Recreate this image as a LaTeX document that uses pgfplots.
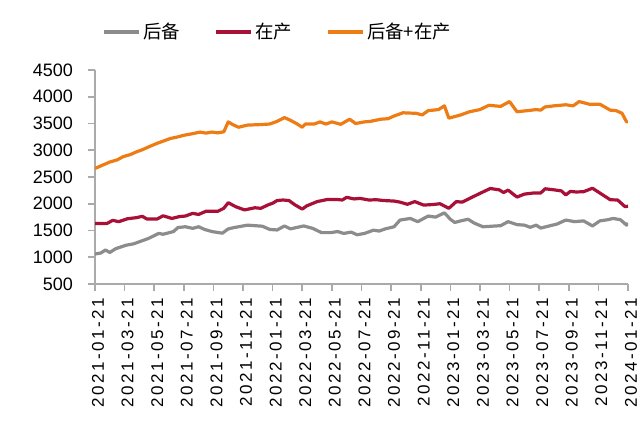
\documentclass[border=0pt]{standalone}
\usepackage{fontspec}
\setmainfont{Liberation Sans}
\newfontfamily\cjk{Noto Sans CJK SC}
\newfontfamily\datefont[LetterSpace=15]{Liberation Sans}
\usepackage{pgfplots}
\pgfplotsset{compat=1.18}

\definecolor{cGray}{RGB}{140,140,140}
\definecolor{cRed}{RGB}{168,16,56}
\definecolor{cOrange}{RGB}{238,124,20}
\definecolor{cAxis}{RGB}{170,170,170}

\begin{document}
\begin{tikzpicture}
\path[use as bounding box] (0,0) rectangle (320pt,210.5pt);
\begin{axis}[
    at={(47.5pt,68.5pt)}, anchor=south west,
    scale only axis, width=266.5pt, height=107pt,
    xmin=0, xmax=36, ymin=500, ymax=4500,
    axis lines*=left,
    axis line style={cAxis, line width=0.8pt},
    tick align=outside,
    major tick length=3.5pt,
    tick style={cAxis, line width=0.8pt},
    xtick={0,2,...,36},
    xticklabels={2021-01-21,2021-03-21,2021-05-21,2021-07-21,2021-09-21,2021-11-21,
      2022-01-21,2022-03-21,2022-05-21,2022-07-21,2022-09-21,2022-11-21,
      2023-01-21,2023-03-21,2023-05-21,2023-07-21,2023-09-21,2023-11-21,2024-01-21},
    xticklabel style={rotate=90, anchor=east, font=\datefont\fontsize{8.5}{10}\selectfont, yshift=-1.5pt},
    ytick={500,1000,...,4500},
    yticklabel style={font=\fontsize{9}{10}\selectfont, xshift=-4pt},
    /pgf/number format/assume math mode=true,
    /pgf/number format/set thousands separator={},
    legend columns=3,
    legend style={at={(0.0,1)}, anchor=west, xshift=0.5pt, yshift=19pt, draw=none, fill=none,
      font=\cjk\fontsize{9.2}{10}\selectfont,
      nodes={inner sep=1pt},
      /tikz/every even column/.append style={column sep=16pt}},
    legend image code/.code={\draw[#1, line width=2pt] (0pt,0pt) -- (17.5pt,0pt);},
    every axis plot/.append style={line width=1.6pt, line join=round, mark=none},
]
\addplot[cGray] coordinates {
(0.0,1060) (0.4,1080) (0.7,1135) (1.0,1090) (1.4,1160) (2.1,1225) (2.6,1250)
(3.0,1290) (3.6,1350) (4.3,1445) (4.6,1430) (5.3,1480) (5.6,1555) (6.1,1570)
(6.6,1540) (7.0,1570) (7.4,1520) (7.9,1480) (8.6,1450) (9.0,1530) (9.4,1555)
(9.8,1575) (10.3,1600) (10.8,1590) (11.3,1580) (11.8,1520) (12.3,1510) (12.8,1585)
(13.2,1530) (13.6,1555) (14.1,1585) (14.7,1540) (15.3,1460) (15.9,1460) (16.4,1480)
(16.8,1445) (17.3,1470) (17.7,1420) (18.2,1445) (18.8,1505) (19.2,1490) (19.6,1530)
(20.2,1570) (20.6,1695) (21.3,1725) (21.8,1665) (22.5,1770) (23.0,1750) (23.6,1830)
(24.0,1710) (24.3,1650) (24.7,1680) (25.2,1710) (25.6,1640) (26.2,1570) (26.8,1580)
(27.4,1590) (27.9,1665) (28.5,1610) (29.0,1600) (29.4,1560) (29.8,1600) (30.1,1545)
(30.6,1580) (31.2,1620) (31.8,1695) (32.4,1665) (33.0,1680) (33.6,1585) (34.1,1680)
(34.6,1700) (35.0,1725) (35.5,1700) (35.9,1600) (36.0,1640)
};
\addlegendentry{后备}
\addplot[cRed] coordinates {
(0.0,1630) (0.8,1630) (1.2,1690) (1.6,1665) (2.2,1720) (2.8,1740) (3.2,1765)
(3.5,1715) (4.2,1715) (4.6,1775) (5.2,1725) (5.7,1760) (6.1,1770) (6.6,1820)
(7.0,1800) (7.5,1860) (8.3,1860) (8.7,1915) (9.0,2020) (9.5,1945) (10.1,1885)
(10.8,1925) (11.2,1915) (11.7,1980) (12.0,2010) (12.3,2060) (12.7,2070) (13.1,2060)
(13.5,1980) (14.0,1900) (14.3,1960) (15.0,2040) (15.7,2080) (16.3,2080) (16.7,2070)
(17.0,2120) (17.5,2090) (17.9,2100) (18.5,2070) (19.0,2075) (19.5,2060) (20.2,2050)
(20.6,2030) (21.1,1990) (21.6,2040) (22.2,1975) (22.8,1985) (23.3,2000) (23.9,1915)
(24.4,2040) (24.8,2030) (25.6,2140) (26.2,2220) (26.7,2285) (27.3,2260) (27.6,2210)
(27.9,2255) (28.5,2125) (29.0,2180) (29.6,2200) (30.1,2200) (30.4,2280) (31.0,2260)
(31.5,2240) (31.8,2165) (32.1,2230) (32.5,2220) (33.0,2225) (33.6,2290) (34.1,2200)
(34.8,2075) (35.3,2070) (35.8,1945) (36.0,1955)
};
\addlegendentry{在产}
\addplot[cOrange] coordinates {
(0.0,2660) (0.5,2720) (1.0,2780) (1.5,2820) (1.9,2880) (2.4,2920) (2.8,2970)
(3.2,3010) (3.6,3060) (4.2,3130) (4.6,3170) (5.1,3220) (5.6,3250) (6.0,3280)
(6.6,3310) (7.1,3340) (7.5,3320) (7.9,3340) (8.3,3325) (8.7,3345) (9.0,3530)
(9.3,3480) (9.7,3430) (10.3,3470) (11.2,3480) (11.8,3490) (12.3,3540) (12.8,3610)
(13.2,3560) (13.6,3500) (14.0,3430) (14.2,3490) (14.8,3490) (15.2,3530) (15.6,3490)
(16.0,3530) (16.6,3485) (17.2,3580) (17.6,3500) (18.2,3530) (18.6,3540) (19.3,3580)
(19.8,3590) (20.2,3640) (20.8,3700) (21.7,3690) (22.1,3660) (22.5,3740) (23.2,3760)
(23.6,3830) (23.9,3600) (24.3,3630) (24.7,3660) (25.3,3720) (26.0,3760) (26.6,3840)
(27.4,3820) (28.0,3910) (28.5,3720) (29.2,3740) (29.8,3760) (30.1,3750) (30.4,3810)
(31.0,3830) (31.8,3850) (32.3,3830) (32.7,3910) (33.4,3860) (34.1,3860) (34.8,3750)
(35.2,3740) (35.6,3690) (35.9,3530) (36.0,3540)
};
\addlegendentry{后备+在产}
\end{axis}
\end{tikzpicture}
\end{document}
